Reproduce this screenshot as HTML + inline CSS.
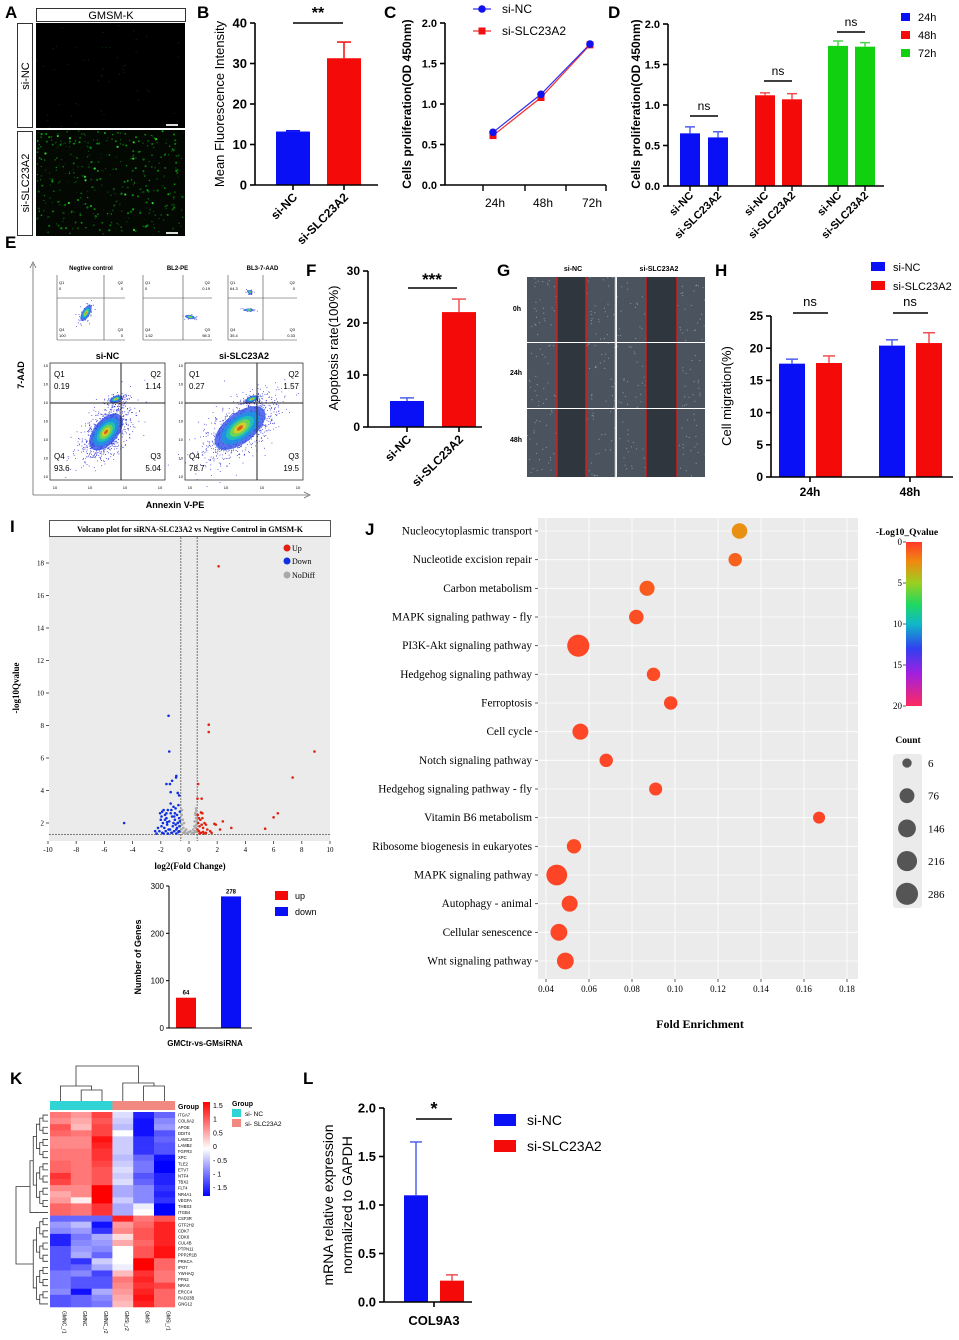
<!DOCTYPE html>
<html><head><meta charset="utf-8"><style>
html,body{margin:0;padding:0;background:#fff;}
svg{display:block;font-family:"Liberation Sans",Arial,sans-serif;}
</style></head>
<body>
<svg id="fig" width="959" height="1340" viewBox="0 0 959 1340" xmlns="http://www.w3.org/2000/svg">
<defs>
<linearGradient id="jcb" x1="0" y1="0" x2="0" y2="1">
<stop offset="0" stop-color="#ff3a2a"/><stop offset="0.12" stop-color="#f08a10"/><stop offset="0.25" stop-color="#9ad020"/><stop offset="0.38" stop-color="#20d860"/><stop offset="0.5" stop-color="#10b8c8"/><stop offset="0.65" stop-color="#3040f0"/><stop offset="0.8" stop-color="#a020e0"/><stop offset="1" stop-color="#ff2a60"/>
</linearGradient>
<linearGradient id="kcb" x1="0" y1="0" x2="0" y2="1">
<stop offset="0" stop-color="#ff0000"/><stop offset="0.5" stop-color="#ffffff"/><stop offset="1" stop-color="#0000ff"/>
</linearGradient>
</defs>
</svg>
<script>
// ---------- DATA ----------
const bCats=['si-NC','si-SLC23A2'];
const bVals=[13.2,31.3];
const bErr=[13.4,35.3];
const bTicks=[0,10,20,30,40];

const cTimes=['24h','48h','72h'];
const cNC=[0.65,1.12,1.74];
const cSLC=[0.61,1.08,1.73];
const cTicks=[0,0.5,1.0,1.5,2.0];

const dCats=['si-NC','si-SLC23A2','si-NC','si-SLC23A2','si-NC','si-SLC23A2'];
const dVals=[0.65,0.60,1.12,1.07,1.73,1.72];
const dErr=[0.73,0.67,1.15,1.14,1.79,1.77];
const dTicks=[0,0.5,1.0,1.5,2.0];

const fCats=['si-NC','si-SLC23A2'];
const fVals=[5.0,22.1];
const fErr=[5.6,24.6];
const fTicks=[0,10,20,30];

const hGroups=['24h','48h'];
const hNC=[17.6,20.4];
const hNCerr=[18.3,21.3];
const hSLC=[17.7,20.8];
const hSLCerr=[18.8,22.4];
const hTicks=[0,5,10,15,20,25];

const vUp=[[2.1,17.8],[1.4,8.05],[1.4,7.6],[8.9,6.4],[7.35,4.8],[6.3,2.6],[6.0,2.35],[5.4,1.65],[3.0,1.7],[2.4,2.1],[2.2,1.6],[1.8,1.95],[1.9,1.9],[0.65,4.4],[0.6,3.5],[0.9,3.5],[0.85,2.65],[0.95,2.6],[1.2,1.4],[1.5,1.5],[1.6,1.4],[0.7,2.3],[0.8,2.2],[0.65,2.0],[0.75,1.8],[0.9,1.9],[1.0,1.7],[1.1,2.0],[0.7,1.5],[0.85,1.4],[1.0,1.45],[0.6,1.6],[0.62,2.5],[1.2,1.9],[1.3,1.6],[0.95,2.3],[0.75,1.35],[1.05,1.35]];
const vDown=[[-4.6,2.0],[-1.45,8.6],[-1.4,6.4],[-0.9,4.9],[-0.92,4.8],[-1.2,4.6],[-1.35,4.4],[-1.6,4.4],[-1.3,3.9],[-0.8,3.85],[-0.7,3.7],[-2.4,1.5],[-2.2,1.7],[-2.05,2.6],[-1.8,2.8],[-1.9,2.7],[-1.7,2.5],[-1.5,2.8],[-1.3,3.2],[-1.1,3.0],[-0.95,2.9],[-0.75,3.1],[-0.65,2.7],[-2.0,2.2],[-1.85,2.0],[-1.6,2.3],[-1.4,2.1],[-1.2,2.4],[-1.0,2.2],[-0.85,2.5],[-0.7,2.3],[-1.95,1.8],[-1.75,1.7],[-1.55,1.9],[-1.35,1.6],[-1.15,1.8],[-0.95,1.9],[-0.8,2.0],[-0.68,1.8],[-2.1,1.5],[-1.9,1.4],[-1.65,1.5],[-1.45,1.6],[-1.25,1.4],[-1.05,1.5],[-0.9,1.6],[-0.75,1.45],[-1.8,1.35],[-1.5,1.35],[-1.2,1.4],[-0.9,1.35],[-0.7,1.5],[-1.6,2.6],[-1.3,2.6],[-1.0,2.6],[-0.8,2.0],[-2.3,1.35],[-1.7,2.2],[-1.1,2.0],[-0.85,1.7],[-1.25,2.8],[-1.05,2.4],[-0.65,2.1],[-1.55,2.05],[-1.95,2.4]];
const vNo=[[0.5,2.9],[0.45,2.6],[0.5,2.3],[0.4,2.1],[0.52,1.9],[0.48,1.7],[0.42,1.5],[0.35,1.4],[0.5,1.45],[0.3,1.6],[0.25,1.4],[0.1,1.5],[0.0,1.45],[-0.1,1.4],[-0.2,1.6],[-0.3,1.5],[-0.4,1.7],[-0.5,1.9],[-0.45,2.2],[-0.52,2.5],[-0.5,2.8],[-0.4,1.4],[-0.35,2.0],[0.38,1.8],[0.55,2.1],[0.47,2.5],[-0.55,1.6],[0.2,1.35],[-0.25,1.35],[0.53,2.75]];

const nCats=['up','down'];
const nVals=[64,278];
const nTicks=[0,100,200,300];

const jTerms=['Nucleocytoplasmic transport','Nucleotide excision repair','Carbon metabolism','MAPK signaling pathway - fly','PI3K-Akt signaling pathway','Hedgehog signaling pathway','Ferroptosis','Cell cycle','Notch signaling pathway','Hedgehog signaling pathway - fly','Vitamin B6 metabolism','Ribosome biogenesis in eukaryotes','MAPK signaling pathway','Autophagy - animal','Cellular senescence','Wnt signaling pathway'];
const jFold=[0.130,0.128,0.087,0.082,0.055,0.090,0.098,0.056,0.068,0.091,0.167,0.053,0.045,0.051,0.046,0.049];
const jCount=[90,50,80,70,286,50,50,100,50,45,30,65,240,100,120,120];
const jQ=[2.6,1.2,1.0,0.6,0.4,0.5,0.4,0.4,0.4,0.4,0.3,0.5,0.3,0.4,0.4,0.4];
const jTicks=[0.04,0.06,0.08,0.10,0.12,0.14,0.16,0.18];
const jQTicks=[0,5,10,15,20];
const jCountTicks=[6,76,146,216,286];

const kGenes=['ITGA7','COL6A2','APOE','DDIT4','LAMC3','LAMB2','FGFR3','XPC','TLE2','ETV7','NTF4','TBX2','FLT4','NR4A1','VEGFA','THBS3','ITGB4','CSF3R','GTF2H2','CDK7','CDK6','CUL4B','PTPN11','PPP2R1B','PRKCA','IPO7','YWHAQ','PFN2','NRAS','ERCC4','RAD23B','GNG12'];
const kSamples=['GMNC_r1','GMNC','GMNC_r2','GMSi_r2','GMSi','GMSi_r1'];
const kMatrix=[
[0.8,0.6,1.1,-0.2,-1.3,-0.9],[0.7,0.5,1.0,-0.3,-1.4,-0.7],[1.0,0.4,1.1,-0.4,-1.4,-0.6],[0.9,0.8,1.1,0.0,-1.4,-1.0],
[0.7,0.7,1.4,-0.3,-1.2,-0.9],[0.7,0.7,1.3,-0.3,-1.2,-1.0],[0.8,0.8,1.2,-0.3,-1.2,-1.0],[0.8,0.8,1.2,-0.4,-0.9,-1.4],
[0.9,0.8,1.1,-0.3,-0.8,-1.5],[0.9,0.8,1.0,-0.2,-0.8,-1.5],[1.2,0.8,1.0,-0.3,-1.0,-1.3],[1.1,0.8,1.0,-0.2,-0.9,-1.3],
[0.7,0.7,1.5,-0.5,-0.7,-1.2],[0.5,0.7,1.5,-0.5,-0.7,-1.3],[0.6,0.1,1.5,-0.3,-0.7,-1.2],[0.9,0.8,1.2,-0.5,-0.1,-1.6],
[0.9,0.8,1.2,-0.5,0.0,-1.6],
[-0.9,-0.9,-0.9,1.3,0.8,1.0],[-0.6,-0.4,-1.4,0.6,0.9,1.3],[-0.7,-0.6,-1.2,0.7,1.0,1.3],[-1.3,-0.8,-0.5,0.2,1.0,1.3],
[-1.3,-0.7,-0.6,0.5,0.9,1.3],[-1.0,-0.6,-0.7,0.0,1.0,1.4],[-1.0,-0.5,-0.9,0.0,1.0,1.4],[-1.0,-1.2,-0.3,0.0,1.5,0.9],
[-1.0,-0.9,-0.5,-0.1,1.5,0.9],[-0.8,-0.7,-1.1,0.4,1.2,0.8],[-0.8,-1.0,-1.0,0.8,1.3,0.8],[-0.8,-1.0,-1.0,0.7,1.2,1.1],
[-0.7,-1.4,-0.5,0.6,1.3,0.9],[-1.0,-0.9,-0.7,0.5,1.4,0.9],[-1.0,-0.9,-0.8,0.4,1.3,0.9]];
const kLegendTicks=[1.5,1,0.5,0,-0.5,-1,-1.5];

const lCats=['si-NC','si-SLC23A2'];
const lVals=[1.10,0.22];
const lErr=[1.65,0.28];
const lTicks=[0,0.5,1.0,1.5,2.0];

// ---------- HELPERS ----------
const NS='http://www.w3.org/2000/svg';
const svg=document.getElementById('fig');
function mk(tag,attrs,name,parent){
  const e=document.createElementNS(NS,tag);
  for(const k in attrs)e.setAttribute(k,attrs[k]);
  
  
  (parent||svg).appendChild(e);return e;
}
function tx(x,y,s,size,name,o){
  o=o||{};
  const a={x:x,y:y,'font-size':size,fill:o.fill||'#000','text-anchor':o.anchor||'start'};
  if(o.bold)a['font-weight']='bold';
  if(o.serif)a['font-family']='"Liberation Serif",serif';
  if(o.rot!==undefined)a.transform='rotate('+o.rot+' '+x+' '+y+')';
  const t=mk('text',a,name);t.textContent=s;return t;
}
function ln(x1,y1,x2,y2,name,c,w,extra){const a={x1:x1,y1:y1,x2:x2,y2:y2,stroke:c||'#000','stroke-width':w||1};if(extra)Object.assign(a,extra);return mk('line',a,name);}
function rc(x,y,w,h,fill,name,extra){const a={x:x,y:y,width:w,height:h,fill:fill};if(extra)Object.assign(a,extra);return mk('rect',a,name);}
function lin(d0,d1,r0,r1){return v=>r0+(v-d0)*(r1-r0)/(d1-d0);}
function yAxis(x,sc,ticks,fs,name,fmt,bold){
  ln(x,sc(ticks[0]),x,sc(ticks[ticks.length-1]),name+'-line','#000',1.6);
  ticks.forEach(t=>{ln(x-5,sc(t),x,sc(t),name+'-tick','#000',1.6);
    tx(x-8,sc(t)+fs*0.35,fmt?fmt(t):String(t),fs,name+'-label',{anchor:'end',bold:bold!==false});});
}
function errBar(cx,yTop,yErr,color,name,cap){
  ln(cx,yTop,cx,yErr,name,color,1.5);ln(cx-cap,yErr,cx+cap,yErr,name+'-cap',color,1.5);
}
function rng(seed){let s=seed;return ()=>{s=(s*9301+49297)%233280;return s/233280;};}

// ---------- PANEL LETTERS ----------
[['A',5,18],['B',197,18],['C',384,18],['D',608,18],['E',5,248],['F',306,276],['G',497,276],['H',715,276],['I',10,532],['J',365,535],['K',10,1084],['L',303,1084]].forEach(p=>{
  tx(p[1],p[2],p[0],17,'panel-letter-'+p[0].toLowerCase(),{bold:true});
});

// ---------- PANEL A ----------
rc(36.5,8.5,149,13,'#fff','a-header-box',{stroke:'#333','stroke-width':1});
tx(111,19,'GMSM-K',11,'a-header-label',{anchor:'middle'});
rc(17.5,23.5,15,104,'#fff','a-row-box-sinc',{stroke:'#333','stroke-width':1});
rc(17.5,131.5,15,104,'#fff','a-row-box-sislc',{stroke:'#333','stroke-width':1});
tx(29,76,'si-NC',11,'a-row-label-sinc',{anchor:'middle',rot:-90});
tx(29,183,'si-SLC23A2',11,'a-row-label-sislc',{anchor:'middle',rot:-90});
rc(36,23,149,105,'#000','a-image-sinc');
rc(36,130,149,106,'#030803','a-image-sislc');
(function(){const r=rng(7);
 for(let i=0;i<50;i++){mk('circle',{cx:36+r()*149,cy:23+r()*105,r:0.5,fill:'#124012'},'a-sinc-cell');}
 for(let i=0;i<380;i++){const g=Math.floor(50+r()*110);mk('circle',{cx:37+r()*147,cy:131+r()*104,r:0.4+r()*0.8,fill:'rgb(10,'+g+',12)'},'a-sislc-cell');}
 for(let i=0;i<14;i++){mk('circle',{cx:40+r()*140,cy:135+r()*96,r:1.1,fill:'#30d030'},'a-sislc-bright');}
})();
rc(166,124,12,2,'#ddd','a-scalebar-1');rc(166,232,12,2,'#ddd','a-scalebar-2');

// ---------- PANEL B ----------
(function(){
 const y=lin(0,40,185,23);const cx=[293,344];const cols=['#0a10f5','#f50a0a'];
 bCats.forEach((c,i)=>{
  rc(cx[i]-17,y(bVals[i]),34,185-y(bVals[i]),cols[i],'b-bar-'+i);
  errBar(cx[i],y(bVals[i]),y(bErr[i]),cols[i],'b-error-bar',7);
  ln(cx[i],185,cx[i],190,'b-x-tick','#000',1.6);
  tx(cx[i]+5,198,c,12,'b-x-label',{anchor:'end',bold:true,rot:-45});
 });
 ln(255,185,378,185,'b-x-axis','#000',1.6);
 yAxis(255,y,bTicks,13,'b-y-axis');
 tx(224,104,'Mean Fluorescence Intensity',13,'b-y-axis-title',{anchor:'middle',rot:-90});
 ln(293,23,343,23,'b-sig-line','#000',1.6);
 tx(318,18,'**',16,'b-sig-stars',{anchor:'middle',bold:true});
})();

// ---------- PANEL C ----------
(function(){
 const y=lin(0,2,185,23);const xs=[493,541,590];
 yAxis(445,y,cTicks,11,'c-y-axis',v=>v.toFixed(1));
 ln(445,185,606,185,'c-x-axis','#000',1.6);
 [483,525,566,606].forEach(t=>ln(t,185,t,191,'c-x-tick','#000',1.4));
 cTimes.forEach((t,i)=>tx(xs[i]+2,207,t,12,'c-x-label',{anchor:'middle'}));
 const pts=(arr)=>arr.map((v,i)=>xs[i]+','+y(v)).join(' ');
 mk('polyline',{points:pts(cSLC),fill:'none',stroke:'#f03030','stroke-width':1.2},'c-line-sislc');
 mk('polyline',{points:pts(cNC),fill:'none',stroke:'#3030f0','stroke-width':1.2},'c-line-sinc');
 cSLC.forEach((v,i)=>rc(xs[i]-3.5,y(v)-3.5,7,7,'#f01010','c-point-sislc'));
 cNC.forEach((v,i)=>mk('circle',{cx:xs[i],cy:y(v),r:3.8,fill:'#1010f0'},'c-point-sinc'));
 tx(411,104,'Cells proliferation(OD 450nm)',12,'c-y-axis-title',{anchor:'middle',rot:-90,bold:true});
 ln(473,9,491,9,'c-legend-line-sinc','#3030f0',1.2);mk('circle',{cx:482,cy:9,r:3.8,fill:'#1010f0'},'c-legend-marker-sinc');
 tx(502,13,'si-NC',12,'c-legend-label-sinc');
 ln(473,31,491,31,'c-legend-line-sislc','#f03030',1.2);rc(478.5,27.5,7,7,'#f01010','c-legend-marker-sislc');
 tx(502,35,'si-SLC23A2',12,'c-legend-label-sislc');
})();

// ---------- PANEL D ----------
(function(){
 const y=lin(0,2,186,24);const cx=[690,718,765,792,838,865];
 const cols=['#0a10f5','#0a10f5','#f50a0a','#f50a0a','#10d010','#10d010'];
 const ecol=['#5060f0','#5060f0','#f05050','#f05050','#50d050','#50d050'];
 dCats.forEach((c,i)=>{
  rc(cx[i]-10,y(dVals[i]),20,186-y(dVals[i]),cols[i],'d-bar-'+i);
  errBar(cx[i],y(dVals[i]),y(dErr[i]),ecol[i],'d-error-bar',5);
  ln(cx[i],186,cx[i],191,'d-x-tick','#000',1.4);
  tx(cx[i]+4,196,c,11,'d-x-label',{anchor:'end',bold:true,rot:-45});
 });
 ln(668,186,884,186,'d-x-axis','#000',1.6);
 yAxis(668,y,dTicks,11,'d-y-axis',v=>v.toFixed(1));
 tx(640,104,'Cells proliferation(OD 450nm)',12,'d-y-axis-title',{anchor:'middle',rot:-90,bold:true});
 [[704,116],[778,81],[851,32]].forEach((p,i)=>{ln(p[0]-14,p[1],p[0]+14,p[1],'d-sig-line','#000',1.5);tx(p[0],p[1]-6,'ns',12,'d-sig-label',{anchor:'middle'});});
 [['24h','#0a10f5',17],['48h','#f50a0a',35],['72h','#10d010',53]].forEach(l=>{rc(901,l[2]-4,9,8,l[1],'d-legend-swatch');tx(918,l[2]+4,l[0],11,'d-legend-label');});
})();

// ---------- PANEL E ----------
(function(){
 ln(33,495,33,264,'e-y-arrow','#666',0.8);mk('path',{d:'M30,268 L33,262 L36,268',fill:'none',stroke:'#666','stroke-width':0.8},'e-y-arrowhead');
 ln(33,495,308,495,'e-x-arrow','#666',0.8);mk('path',{d:'M304,492 L310,495 L304,498',fill:'none',stroke:'#666','stroke-width':0.8},'e-x-arrowhead');
 tx(24,375,'7-AAD',9,'e-y-axis-title',{anchor:'middle',rot:-90,bold:true});
 tx(175,508,'Annexin V-PE',9,'e-x-axis-title',{anchor:'middle',bold:true});
 function blob(cx,cy,rx,ry,rot,name,seed,n){
  const r=rng(seed);
  for(let i=0;i<n;i++){const a=r()*6.283,d=Math.sqrt(-2*Math.log(r()+1e-6))*0.6;
   const px=Math.cos(a)*d*rx*1.3,py=Math.sin(a)*d*ry*1.3;const t=rot*Math.PI/180;
   mk('rect',{x:cx+px*Math.cos(t)-py*Math.sin(t),y:cy+px*Math.sin(t)+py*Math.cos(t),width:0.8,height:0.8,fill:'#2020d0'},name+'-event');}
  [[1,'#3050e8'],[0.75,'#1898e0'],[0.55,'#20c8b0'],[0.4,'#80d840'],[0.25,'#e8d020'],[0.12,'#e84010']].forEach(l=>
   mk('ellipse',{cx:cx,cy:cy,rx:rx*l[0],ry:ry*l[0],fill:l[1],opacity:0.8,transform:'rotate('+rot+' '+cx+' '+cy+')'},name+'-density'));
 }
 const small=[[57,104,125,'Negtive control',['0','0','100','0']],[143,183,212,'BL2-PE',['0','0.19','1.52','98.3']],[228,263,297,'BL3-7-AAD',['64.3','0','35.4','0.33']]];
 small.forEach((s,i)=>{
  ln(s[0],275,s[0],340,'e-small-y-axis','#444',0.6);ln(s[0],340,s[2],340,'e-small-x-axis','#444',0.6);
  ln(s[1],275,s[1],340,'e-small-quad-v','#444',0.6);ln(s[0],298,s[2],298,'e-small-quad-h','#444',0.6);
  tx((s[0]+s[2])/2,270,s[3],6,'e-small-title',{anchor:'middle',bold:true});
  tx(s[0]+2,284,'Q1',4,'e-small-q');tx(s[0]+2,290,s[4][0],4,'e-small-q');
  tx(s[2]-2,284,'Q2',4,'e-small-q',{anchor:'end'});tx(s[2]-2,290,s[4][1],4,'e-small-q',{anchor:'end'});
  tx(s[0]+2,331,'Q4',4,'e-small-q');tx(s[0]+2,337,s[4][2],4,'e-small-q');
  tx(s[2]-2,331,'Q3',4,'e-small-q',{anchor:'end'});tx(s[2]-2,337,s[4][3],4,'e-small-q',{anchor:'end'});
 });
 blob(86,313,9,4,-60,'e-small-nc',3,60);
 blob(190,317,2,5,-80,'e-small-pe',5,30);
 blob(250,292,2.5,2,0,'e-small-aad',9,25);blob(249,310,1.5,5,-90,'e-small-aad2',11,20);
 const big=[[50,121,165,'si-NC',['0.19','1.14','93.6','5.04'],[106,432,22,12,-50]],[185,257,303,'si-SLC23A2',['0.27','1.57','78.7','19.5'],[240,428,30,15,-38]]];
 big.forEach((b,i)=>{
  rc(b[0],363,b[2]-b[0],117,'#fff','e-plot-bg',{stroke:'#333','stroke-width':0.8});
  const bl=b[5];blob(bl[0],bl[1],bl[2],bl[3],bl[4],'e-main',21+i,900);
  blob(b[1]-5,399,7,3,-20,'e-q2',31+i,120);
  ln(b[1],363,b[1],480,'e-quad-v','#222',1);ln(b[0],403,b[2],403,'e-quad-h','#222',1);
  tx((b[0]+b[2])/2,359,b[3],9,'e-plot-title',{anchor:'middle',bold:true});
  tx(b[0]+4,377,'Q1',8,'e-q-label');tx(b[0]+4,389,b[4][0],8,'e-q-value');
  tx(b[2]-4,377,'Q2',8,'e-q-label',{anchor:'end'});tx(b[2]-4,389,b[4][1],8,'e-q-value',{anchor:'end'});
  tx(b[0]+4,459,'Q4',8,'e-q-label');tx(b[0]+4,471,b[4][2],8,'e-q-value');
  tx(b[2]-4,459,'Q3',8,'e-q-label',{anchor:'end'});tx(b[2]-4,471,b[4][3],8,'e-q-value',{anchor:'end'});
  for(let k=0;k<=6;k+=2){const xx=b[0]+5+k*(b[2]-b[0]-10)/6;tx(xx,489,'10',4,'e-x-tick-label',{anchor:'middle'});}
  for(let k=0;k<=6;k++){const yy=478-k*18.5;tx(b[0]-2,yy,'10',4,'e-y-tick-label',{anchor:'end'});}
 });
})();

// ---------- PANEL F ----------
(function(){
 const y=lin(0,30,427,271);const cx=[407,459];const cols=['#0a10f5','#f50a0a'];const ec=['#5060f0','#f05050'];
 fCats.forEach((c,i)=>{
  rc(cx[i]-17,y(fVals[i]),34,427-y(fVals[i]),cols[i],'f-bar-'+i);
  errBar(cx[i],y(fVals[i]),y(fErr[i]),ec[i],'f-error-bar',7);
  ln(cx[i],427,cx[i],432,'f-x-tick','#000',1.6);
  tx(cx[i]+5,440,c,12,'f-x-label',{anchor:'end',bold:true,rot:-45});
 });
 ln(368,427,482,427,'f-x-axis','#000',1.6);
 yAxis(368,y,fTicks,12,'f-y-axis');
 tx(338,348,'Apoptosis rate(100%)',13,'f-y-axis-title',{anchor:'middle',rot:-90});
 ln(408,288,457,288,'f-sig-line','#000',1.6);
 tx(432,285,'***',17,'f-sig-stars',{anchor:'middle',bold:true});
})();

// ---------- PANEL G ----------
(function(){
 const cols=[[527,88],[617,88]];const rows=[[277,65],[343,65],[409,68]];
 const r=rng(13);
 cols.forEach((c,ci)=>rows.forEach((rw,ri)=>{
  rc(c[0],rw[0],c[1],rw[1],'#4a535e','g-image-'+ci+'-'+ri);
  const gx=ci===0?[557,586]:[646,677];
  rc(gx[0],rw[0],gx[1]-gx[0],rw[1],'#30363e','g-wound-gap');
  for(let i=0;i<70;i++){const px=c[0]+r()*c[1],py=rw[0]+r()*rw[1];if(px>gx[0]&&px<gx[1])continue;
   mk('circle',{cx:px,cy:py,r:0.6,fill:'#aebccc',opacity:0.6},'g-cell');}
  ln(gx[0],rw[0],gx[0],rw[0]+rw[1],'g-wound-edge','#e01818',1.4);
  ln(gx[1],rw[0],gx[1],rw[0]+rw[1],'g-wound-edge','#e01818',1.4);
 }));
 ln(615.5,277,615.5,477,'g-divider','#ddd',1.5);
 tx(573,271,'si-NC',7,'g-col-label',{anchor:'middle',bold:true});
 tx(659,271,'si-SLC23A2',7,'g-col-label',{anchor:'middle',bold:true});
 tx(517,311,'0h',7,'g-row-label',{anchor:'middle',bold:true});
 tx(516,375,'24h',7,'g-row-label',{anchor:'middle',bold:true});
 tx(516,442,'48h',7,'g-row-label',{anchor:'middle',bold:true});
})();

// ---------- PANEL H ----------
(function(){
 const y=lin(0,25,477,316);const gc=[810,910];
 hGroups.forEach((g,i)=>{
  const xb=gc[i]-18,xr=gc[i]+19;
  rc(xb-13,y(hNC[i]),26,477-y(hNC[i]),'#0a10f5','h-bar-sinc-'+i);
  errBar(xb,y(hNC[i]),y(hNCerr[i]),'#5060f0','h-error-bar',6);
  rc(xr-13,y(hSLC[i]),26,477-y(hSLC[i]),'#f50a0a','h-bar-sislc-'+i);
  errBar(xr,y(hSLC[i]),y(hSLCerr[i]),'#f05050','h-error-bar',6);
  ln(gc[i],477,gc[i],482,'h-x-tick','#000',1.6);
  tx(gc[i],496,g,12,'h-x-label',{anchor:'middle',bold:true});
  ln(gc[i]-17,313,gc[i]+18,313,'h-sig-line','#000',1.6);
  tx(gc[i],306,'ns',13,'h-sig-label',{anchor:'middle'});
 });
 ln(771,477,953,477,'h-x-axis','#000',1.6);
 yAxis(771,y,hTicks,12,'h-y-axis');
 tx(731,396,'Cell migration(%)',13,'h-y-axis-title',{anchor:'middle',rot:-90});
 rc(871,262,14,9,'#0a10f5','h-legend-swatch-sinc');tx(893,271,'si-NC',11,'h-legend-label-sinc');
 rc(871,281,14,9,'#f50a0a','h-legend-swatch-sislc');tx(893,290,'si-SLC23A2',11,'h-legend-label-sislc');
})();

// ---------- PANEL I (volcano) ----------
(function(){
 const x=lin(0,10,189,330);const y=lin(2,18,823,563);
 rc(49.5,520.5,281,16,'#fff','i-title-box',{stroke:'#555','stroke-width':1});
 tx(190,532,'Volcano plot for siRNA-SLC23A2 vs Negtive Control in GMSM-K',8,'i-title',{anchor:'middle',bold:true,serif:true});
 rc(49,537,281,304,'#ebebeb','i-plot-bg');
 [-10,-8,-6,-4,-2,0,2,4,6,8,10].forEach(t=>{ln(x(t),841,x(t),844,'i-x-tick','#333',0.8);tx(x(t),852,String(t),7,'i-x-tick-label',{anchor:'middle',serif:true});});
 [2,4,6,8,10,12,14,16,18].forEach(t=>{ln(46,y(t),49,y(t),'i-y-tick','#333',0.8);tx(44,y(t)+2.5,String(t),7,'i-y-tick-label',{anchor:'end',serif:true});});
 ln(x(-0.58),537,x(-0.58),841,'i-threshold-left','#555',0.8,{'stroke-dasharray':'2,1'});
 ln(x(0.58),537,x(0.58),841,'i-threshold-right','#555',0.8,{'stroke-dasharray':'2,1'});
 ln(49,y(1.3),330,y(1.3),'i-threshold-q','#555',0.8,{'stroke-dasharray':'2,1'});
 vNo.forEach(p=>mk('circle',{cx:x(p[0]),cy:y(p[1]),r:1.3,fill:'#a8a8a8'},'i-point-nodiff'));
 vDown.forEach(p=>mk('circle',{cx:x(p[0]),cy:y(p[1]),r:1.3,fill:'#1030e0'},'i-point-down'));
 vUp.forEach(p=>mk('circle',{cx:x(p[0]),cy:y(p[1]),r:1.3,fill:'#e02010'},'i-point-up'));
 [['Up','#e02010',548],['Down','#1030e0',561],['NoDiff','#a8a8a8',575]].forEach(l=>{mk('circle',{cx:287,cy:l[2],r:3.5,fill:l[1]},'i-legend-marker');tx(292,l[2]+3,l[0],8,'i-legend-label',{serif:true});});
 tx(190,869,'log2(Fold Change)',9,'i-x-axis-title',{anchor:'middle',bold:true,serif:true});
 tx(19,688,'-log10Qvalue',9,'i-y-axis-title',{anchor:'middle',bold:true,serif:true,rot:-90});
})();

// ---------- PANEL I (DEG counts) ----------
(function(){
 const y=lin(0,300,1028,886);const cx=[186,231];const cols=['#f50a0a','#0a10f5'];
 nCats.forEach((c,i)=>{rc(cx[i]-10,y(nVals[i]),20,1028-y(nVals[i]),cols[i],'i-count-bar-'+c);
  tx(cx[i],y(nVals[i])-3,String(nVals[i]),6,'i-count-value',{anchor:'middle',bold:true});});
 ln(169,1028,252,1028,'i-count-x-axis','#000',1);
 ln(169,1028,169,886,'i-count-y-axis','#000',1);
 nTicks.forEach(t=>{ln(166,y(t),169,y(t),'i-count-y-tick','#000',1);tx(164,y(t)+3,String(t),8,'i-count-y-label',{anchor:'end'});});
 tx(141,957,'Number of Genes',9,'i-count-y-title',{anchor:'middle',rot:-90,bold:true});
 tx(205,1046,'GMCtr-vs-GMsiRNA',8,'i-count-x-label',{anchor:'middle',bold:true});
 rc(275,891,13,9,'#f50a0a','i-count-legend-up');tx(295,899,'up',9,'i-count-legend-label');
 rc(275,907,13,9,'#0a10f5','i-count-legend-down');tx(295,915,'down',9,'i-count-legend-label');
})();

// ---------- PANEL J ----------
(function(){
 const x=lin(0.04,0.18,546,847);const y0=531,dy=(961-531)/15;
 const cr=c=>3.6+Math.sqrt(c)*0.44;
 const stops=[[0,[255,58,42]],[2.4,[240,138,16]],[5,[154,208,32]],[7.6,[32,216,96]],[10,[16,184,200]],[13,[48,64,240]],[16,[160,32,224]],[20,[255,42,96]]];
 function qc(q){for(let i=0;i<stops.length-1;i++){if(q<=stops[i+1][0]){const t=(q-stops[i][0])/(stops[i+1][0]-stops[i][0]);const c=stops[i][1].map((v,k)=>Math.round(v+(stops[i+1][1][k]-v)*t));return 'rgb('+c.join(',')+')';}}return 'rgb(255,42,96)';}
 rc(538,518,320,461,'#ebebeb','j-plot-bg');
 jTicks.forEach(t=>{ln(x(t),518,x(t),979,'j-grid-x','#fff',0.8);ln(x(t),979,x(t),982,'j-x-tick','#333',0.8);tx(x(t),992,t.toFixed(2),9,'j-x-tick-label',{anchor:'middle',serif:true});});
 jTerms.forEach((t,i)=>{const yy=y0+i*dy;ln(538,yy,858,yy,'j-grid-y','#fff',0.8);ln(535,yy,538,yy,'j-y-tick','#333',0.8);
  tx(532,yy+3.5,t,11.3,'j-y-label',{anchor:'end',serif:true});});
 jTerms.forEach((t,i)=>mk('circle',{cx:x(jFold[i]),cy:y0+i*dy,r:cr(jCount[i]),fill:qc(jQ[i])},'j-point'));
 tx(700,1028,'Fold Enrichment',12,'j-x-axis-title',{anchor:'middle',bold:true,serif:true});
 tx(907,535,'-Log10_Qvalue',9.5,'j-color-legend-title',{anchor:'middle',bold:true,serif:true});
 const cy=lin(0,20,542,706);
 rc(906,542,16,164,'url(#jcb)','j-colorbar');
 jQTicks.forEach(t=>{ln(903,cy(t),906,cy(t),'j-colorbar-tick','#333',0.8);tx(902,cy(t)+3,String(t),9,'j-colorbar-label',{anchor:'end',serif:true});});
 tx(908,743,'Count',9.5,'j-size-legend-title',{anchor:'middle',bold:true,serif:true});
 rc(893,754,29,154,'#ebebeb','j-size-legend-bg',{rx:3});
 jCountTicks.forEach((c,i)=>{const yy=763+i*32.7;mk('circle',{cx:907,cy:yy,r:cr(c),fill:'#555'},'j-size-legend-marker');tx(928,yy+4,String(c),11,'j-size-legend-label',{serif:true});});
})();

// ---------- PANEL K ----------
(function(){
 const x0=50,cw=20.8,y0=1112,ch=195/kGenes.length;
 function col(v){const t=Math.max(-1,Math.min(1,v/1.5));let r,g,b;
  if(t>=0){r=255;g=b=Math.round(255*(1-t));}else{b=255;r=g=Math.round(255*(1+t));}return 'rgb('+r+','+g+','+b+')';}
 kMatrix.forEach((row,ri)=>row.forEach((v,ci)=>rc(x0+ci*cw,y0+ri*ch,cw+0.3,ch+0.3,col(v),'k-cell')));
 kSamples.forEach((s,ci)=>{rc(x0+ci*cw,1101,cw+0.3,9,ci<3?'#30d4d4':'#f08a80','k-group-bar');
  tx(x0+ci*cw+cw/2+2,1311,s,5,'k-sample-label',{rot:90});});
 kGenes.forEach((g,ri)=>tx(178,y0+ri*ch+ch*0.75,g,4.2,'k-gene-label'));
 tx(178,1109,'Group',7,'k-group-label',{bold:true});
 rc(203,1102,7,94,'url(#kcb)','k-colorbar');
 kLegendTicks.forEach((t,i)=>tx(213,1108+i*13.7,(t<0?'- ':'')+String(Math.abs(t)),7,'k-colorbar-label'));
 tx(232,1106,'Group',7,'k-legend-title',{bold:true});
 rc(232,1109,9,8,'#30d4d4','k-legend-swatch-nc');tx(245,1116,'si- NC',6.5,'k-legend-label');
 rc(232,1119,9,8,'#f08a80','k-legend-swatch-slc');tx(245,1126,'si- SLC23A2',6.5,'k-legend-label');
 const cc=i=>x0+i*cw+cw/2;
 const seg=(d,n)=>mk('path',{d:d,fill:'none',stroke:'#333','stroke-width':0.8},n);
 seg('M'+cc(1)+',1101 V1090 H'+cc(2)+' V1101','k-dendro-top');
 const m12=(cc(1)+cc(2))/2;
 seg('M'+cc(0)+',1101 V1086 H'+m12+' V1090','k-dendro-top');
 seg('M'+cc(4)+',1101 V1086 H'+cc(5)+' V1101','k-dendro-top');
 const m45=(cc(4)+cc(5))/2;
 seg('M'+cc(3)+',1101 V1083 H'+m45+' V1086','k-dendro-top');
 const mA=(cc(0)+m12)/2,mB=(cc(3)+m45)/2;
 seg('M'+mA+',1086 V1066 H'+mB+' V1083','k-dendro-top');
 const rc_=i=>y0+i*ch+ch/2;
 function clus(a,b,xr){let mids=[];for(let i=a;i<=b;i+=2){const j=Math.min(i+1,b);seg('M48,'+rc_(i)+' H43 V'+rc_(j)+' H48','k-dendro-left');mids.push((rc_(i)+rc_(j))/2);}
  let lvl=mids,xx=43;while(lvl.length>1){const nx=[];const xn=xx-(43-xr)/4;for(let i=0;i<lvl.length;i+=2){const j=Math.min(i+1,lvl.length-1);seg('M'+xx+','+lvl[i]+' H'+xn+' V'+lvl[j]+' H'+xx,'k-dendro-left');nx.push((lvl[i]+lvl[j])/2);}lvl=nx;xx=xn;}return [xx,lvl[0]];}
 const t=clus(0,16,30),b=clus(17,31,30);
 seg('M'+t[0]+','+t[1]+' H16 V'+b[1]+' H'+b[0],'k-dendro-left');
})();

// ---------- PANEL L ----------
(function(){
 const y=lin(0,2,1302,1108);const cx=[416,452];const cols=['#0a10f5','#f50a0a'];const ec=['#5060f0','#f05050'];
 lCats.forEach((c,i)=>{rc(cx[i]-12,y(lVals[i]),24,1302-y(lVals[i]),cols[i],'l-bar-'+i);
  errBar(cx[i],y(lVals[i]),y(lErr[i]),ec[i],'l-error-bar',6);});
 ln(384,1302,472,1302,'l-x-axis','#000',1.6);
 ln(434,1302,434,1307,'l-x-tick','#000',1.6);
 tx(434,1325,'COL9A3',13,'l-x-label',{anchor:'middle',bold:true});
 yAxis(384,y,lTicks,13,'l-y-axis',v=>v.toFixed(1));
 tx(333,1205,'mRNA relative expression',14,'l-y-axis-title-1',{anchor:'middle',rot:-90});
 tx(352,1205,'normalized to GAPDH',14,'l-y-axis-title-2',{anchor:'middle',rot:-90});
 ln(416,1119,452,1119,'l-sig-line','#000',1.6);
 tx(434,1115,'*',18,'l-sig-star',{anchor:'middle',bold:true});
 rc(494,1114,22,12,'#0a10f5','l-legend-swatch-sinc');tx(527,1125,'si-NC',14,'l-legend-label-sinc');
 rc(494,1140,22,12,'#f50a0a','l-legend-swatch-sislc');tx(527,1151,'si-SLC23A2',14,'l-legend-label-sislc');
})();
</script>
</body></html>
